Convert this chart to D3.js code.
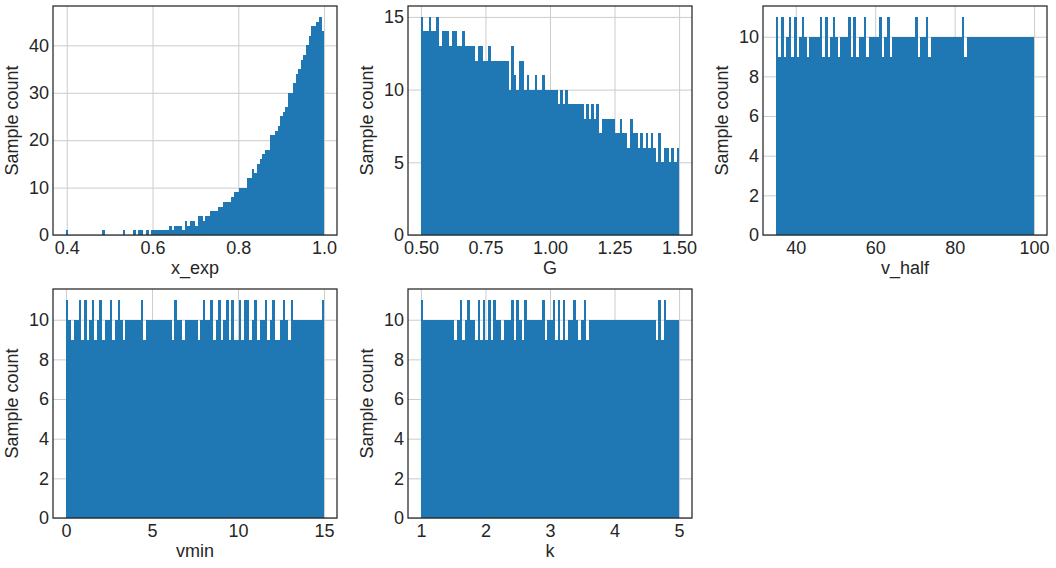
<!DOCTYPE html>
<html>
<head>
<meta charset="utf-8">
<script src="https://cdn.jsdelivr.net/npm/d3@7"></script>
<style>
	body { margin:0; background:#fff; }
	svg { display:block; }
	.tick text { font-family: Arial, "Liberation Sans", sans-serif; font-size:18px; fill:#262626; }
	.label { font-family: Arial, "Liberation Sans", sans-serif; font-size:18px; fill:#262626; }
</style>
</head>
<body>
<svg id="chart" width="1056" height="568"></svg>
<script>

// sample counts per bin (100 bins each)
const xExpCounts = [
	1,0,0,0,0,0,0,0,0,0,
	0,0,0,0,1,0,0,0,0,0,
	0,0,1,0,0,0,1,0,1,1,
	0,1,0,1,1,1,1,1,1,1,
	2,1,2,2,2,1,3,2,3,3,
	2,4,4,3,4,4,5,5,5,6,
	6,7,7,7,8,9,9,10,10,10,
	12,12,14,13,15,16,17,18,18,21,
	21,22,23,25,26,27,30,30,32,34,
	35,37,38,40,42,44,44,45,46,43
];

const gCounts = [
	15,14,14,15,14,14,15,13,14,14,
	14,13,14,14,13,13,14,13,13,13,
	13,12,13,13,12,12,13,12,12,12,
	12,12,12,12,10,13,11,10,12,12,
	10,11,10,10,11,10,10,11,10,10,
	10,10,10,9,10,9,10,9,9,9,
	9,9,9,8,9,8,9,8,9,7,
	8,8,8,8,8,7,7,8,7,7,
	6,8,7,7,6,7,6,7,6,7,
	6,5,7,5,6,6,5,6,5,6
];

const vHalfCounts = [
	11,9,11,9,10,11,9,11,9,10,
	11,10,9,10,10,10,10,11,9,11,
	9,10,11,10,9,10,10,10,11,9,
	11,9,10,10,11,9,10,10,10,10,
	11,9,10,11,9,10,10,10,10,10,
	10,10,10,10,11,9,10,10,11,9,
	10,10,10,10,10,10,10,10,10,10,
	10,10,11,9,10,10,10,10,10,10,
	10,10,10,10,10,10,10,10,10,10,
	10,10,10,10,10,10,10,10,10,10
];

const vminCounts = [
	11,10,9,10,10,11,9,11,9,10,
	11,9,10,11,9,10,10,11,9,10,
	11,10,9,10,10,10,10,10,10,11,
	9,10,10,10,10,10,10,10,10,10,
	10,9,11,10,10,9,10,10,10,10,
	10,9,10,11,10,10,11,9,10,11,
	9,10,11,9,11,9,9,11,9,11,
	11,9,10,11,9,10,10,11,9,10,
	11,9,9,10,11,10,9,11,10,10,
	10,10,10,10,10,10,10,10,10,11
];

const kCounts = [
	11,10,10,10,10,10,10,10,10,10,
	10,10,10,9,10,11,9,10,11,10,
	10,9,11,9,11,9,11,9,11,10,
	10,9,10,10,10,11,9,11,10,9,
	11,10,10,10,10,10,10,11,9,10,
	10,11,9,11,9,11,9,10,10,11,
	10,9,10,11,9,10,10,10,10,10,
	10,10,10,10,10,10,10,10,10,10,
	10,10,10,10,10,10,10,10,10,10,
	10,9,11,9,11,10,10,10,10,10
];

// first and last bin edge of every parameter
const xExpRange = [0.398, 1.0];
const gRange = [0.5, 1.5];
const vHalfRange = [35, 100];
const vminRange = [0, 15];
const kRange = [1, 5];

const parameterNames = ['x_exp', 'G', 'v_half', 'vmin', 'k'];
const countLabel = 'Sample count';

// tick labels
const xExpTicks = [0.4, 0.6, 0.8, 1.0];
const gTicks = [0.5, 0.75, 1.0, 1.25, 1.5];
const vHalfTicks = [40, 60, 80, 100];
const vminTicks = [0, 5, 10, 15];
const kTicks = [1, 2, 3, 4, 5];

const xExpCountTicks = [0, 10, 20, 30, 40];
const gCountTicks = [0, 5, 10, 15];
const flatCountTicks = [0, 2, 4, 6, 8, 10];


function Histogram(){

let w = 284;
let h = 229;
let barColor = '#1f77b4';
let gridColor = '#cccccc';
let inkColor = '#262626';

	function exports(d){

		const plot = d3.select(this);

		// equal width bins between the first and last edge, like plt.hist(bins=100)
		const n = d.counts.length;
		const step = (d.range[1] - d.range[0]) / n;
		const bins = d.counts.map((count, i) => ({
			x0: d.range[0] + i*step,
			x1: d.range[0] + (i+1)*step,
			count: count
		}));

		// matplotlib autoscale: 5% margin on x, sticky zero + 5% on top for y
		const pad = (d.range[1] - d.range[0]) * 0.05;
		const scaleX = d3.scaleLinear().domain([d.range[0]-pad, d.range[1]+pad]).range([0,w]);
		const scaleY = d3.scaleLinear().domain([0, d3.max(d.counts)*1.05]).range([h,0]);

		//Grid
		const gridX = plot.append('g')
			.attr('class','grid-x')
			.attr('transform',`translate(0,${h})`)
			.call(d3.axisBottom(scaleX).tickValues(d.xTicks).tickSize(-h).tickFormat(''));
		const gridY = plot.append('g')
			.attr('class','grid-y')
			.call(d3.axisLeft(scaleY).tickValues(d.yTicks).tickSize(-w).tickFormat(''));
		[gridX, gridY].forEach(g => {
			g.select('.domain').remove();
			g.selectAll('line').style('stroke', gridColor).style('stroke-width', 1);
		});

		//Bars
		plot.selectAll('.bin')
			.data(bins.filter(b => b.count > 0))
			.enter()
			.append('rect')
			.attr('class','bin')
			.attr('x', b => scaleX(b.x0))
			.attr('width', b => scaleX(b.x1) - scaleX(b.x0))
			.attr('y', b => scaleY(b.count))
			.attr('height', b => h - scaleY(b.count))
			.style('fill', barColor)
			.style('shape-rendering','crispEdges');

		//Axis labels (no tick marks in this style)
		const axisX = plot.append('g')
			.attr('class','axis-x')
			.attr('transform',`translate(0,${h})`)
			.call(d3.axisBottom(scaleX).tickValues(d.xTicks).tickSize(0).tickPadding(6).tickFormat(d3.format(d.format)));
		const axisY = plot.append('g')
			.attr('class','axis-y')
			.call(d3.axisLeft(scaleY).tickValues(d.yTicks).tickSize(0).tickPadding(4).tickFormat(d3.format('d')));
		[axisX, axisY].forEach(g => g.select('.domain').remove());

		//Frame
		plot.append('rect')
			.attr('width', w)
			.attr('height', h)
			.style('fill','none')
			.style('stroke', inkColor)
			.style('stroke-width', 1.25);

		plot.append('text')
			.attr('class','label')
			.attr('x', w/2)
			.attr('y', h + 39)
			.attr('text-anchor','middle')
			.text(d.name);

		plot.append('text')
			.attr('class','label')
			.attr('transform',`translate(-35.5,${h/2}) rotate(-90)`)
			.attr('text-anchor','middle')
			.text(countLabel);
	}

	exports.width = function(_){
		w = _;
		return this
	}

	exports.height = function(_){
		h = _;
		return this
	}

	exports.barColor = function(_){
		barColor = _;
		return this
	}

	return exports;
}


const panels = [
	{name: parameterNames[0], counts: xExpCounts, range: xExpRange, xTicks: xExpTicks, yTicks: xExpCountTicks, format: '.1f'},
	{name: parameterNames[1], counts: gCounts, range: gRange, xTicks: gTicks, yTicks: gCountTicks, format: '.2f'},
	{name: parameterNames[2], counts: vHalfCounts, range: vHalfRange, xTicks: vHalfTicks, yTicks: flatCountTicks, format: 'd'},
	{name: parameterNames[3], counts: vminCounts, range: vminRange, xTicks: vminTicks, yTicks: flatCountTicks, format: 'd'},
	{name: parameterNames[4], counts: kCounts, range: kRange, xTicks: kTicks, yTicks: flatCountTicks, format: 'd'}
];

// subplot grid: 2 rows x 3 columns, last cell empty
const colLeft = [53, 408, 763];
const rowTop = [6, 289];

const svg = d3.select('#chart');
const hist = Histogram().width(284).height(229);

svg.selectAll('.panel')
	.data(panels)
	.enter()
	.append('g')
	.attr('class','panel')
	.attr('transform', (d,i) => `translate(${colLeft[i%3]},${rowTop[Math.floor(i/3)]})`)
	.each(hist);

</script>
</body>
</html>
